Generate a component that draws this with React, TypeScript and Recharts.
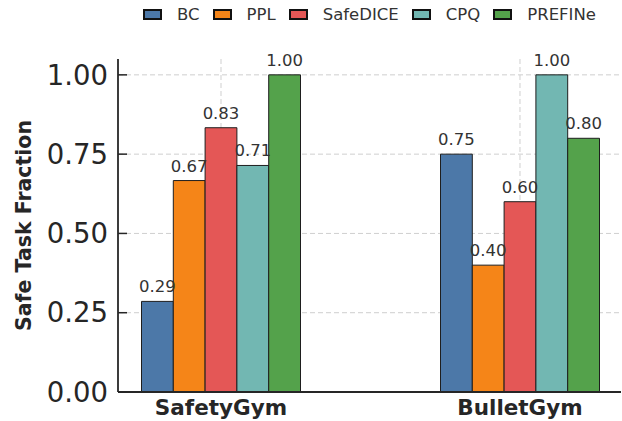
import { BarChart, Bar, XAxis, YAxis, CartesianGrid, LabelList } from 'recharts';

const categories = ['SafetyGym', 'BulletGym'];
const methods = ['BC', 'PPL', 'SafeDICE', 'CPQ', 'PREFINe'];
const bcValues = [0.2857, 0.75];
const pplValues = [0.6667, 0.4];
const safeDiceValues = [0.8333, 0.6];
const cpqValues = [0.7143, 1.0];
const prefineValues = [1.0, 0.8];
const yTicks = [0, 0.25, 0.5, 0.75, 1.0];

const colors = ['#4c78a8', '#f58518', '#e45756', '#72b7b2', '#54a24b'];
const font = '"DejaVu Sans", sans-serif';
const ink = '#262626';

const chartData = categories.map((name, i) => ({
    x: i,
    name,
    BC: bcValues[i],
    PPL: pplValues[i],
    SafeDICE: safeDiceValues[i],
    CPQ: cpqValues[i],
    PREFINe: prefineValues[i],
}));

function LegendBox() {
    return (
        <div style={{ position: 'absolute', top: 5, left: 118, width: 503, display: 'flex', justifyContent: 'center', alignItems: 'center', fontFamily: font, fontSize: 16.5, color: '#333' }}>
            {methods.map((m, i) => (
                <div key={m} style={{ display: 'flex', alignItems: 'center', marginRight: i < methods.length - 1 ? 13 : 0 }}>
                    <span style={{ width: 19, height: 11, boxSizing: 'border-box', border: '2px solid #111', background: colors[i], marginRight: 15, display: 'inline-block' }} />
                    <span>{m}</span>
                </div>
            ))}
        </div>
    );
}

function YLabel(props: any) {
    const vb = props.viewBox || { x: 0, y: 59, width: 118, height: 333 };
    const cx = 24;
    const cy = vb.y + vb.height / 2;
    return (
        <text x={cx} y={cy} transform={`rotate(-90 ${cx} ${cy})`} textAnchor="middle" dominantBaseline="central"
            style={{ fontFamily: font, fontSize: 20.5, fontWeight: 'bold', fill: ink }}>
            Safe Task Fraction
        </text>
    );
}

export default function App() {
    return (
        <div style={{ position: 'absolute', left: 0, top: 0, width: 622, height: 421, background: '#fff' }}>
            <BarChart width={622} height={421} data={chartData} margin={{ top: 59, right: 1, left: 0, bottom: 0 }}
                barGap={0} style={{ fontFamily: font }}>
                <CartesianGrid stroke="#cfcfcf" strokeDasharray="5 3" strokeWidth={1} syncWithTicks />
                <XAxis
                    dataKey="x"
                    type="number"
                    domain={[-0.3445, 1.3378]}
                    allowDataOverflow
                    ticks={[0, 1]}
                    tickFormatter={(v: number) => categories[v]}
                    height={29}
                    tickLine={false}
                    tickSize={0}
                    tickMargin={8}
                    axisLine={{ stroke: ink, strokeWidth: 1.8 }}
                    tick={{ fontSize: 21.5, fontWeight: 'bold', fill: ink, fontFamily: font }}
                />
                <YAxis
                    width={118}
                    domain={[0, 1.05]}
                    ticks={yTicks}
                    allowDataOverflow
                    tickFormatter={(v: number) => v.toFixed(2)}
                    tickSize={-9}
                    tickMargin={19}
                    tickLine={{ stroke: ink, strokeWidth: 1.5 }}
                    axisLine={{ stroke: ink, strokeWidth: 1.8 }}
                    tick={{ fontSize: 27.5, fill: ink, fontFamily: font }}
                    label={<YLabel />}
                />
                {methods.map((m, i) => (
                    <Bar key={m} dataKey={m} fill={colors[i]} stroke="#1e1e1e" strokeWidth={1} barSize={31.8} isAnimationActive={false}>
                        <LabelList dataKey={m} position="top" offset={9} formatter={(v: any) => Number(v).toFixed(2)}
                            style={{ fontSize: 16.5, fill: '#333', fontFamily: font }} />
                    </Bar>
                ))}
            </BarChart>
            <LegendBox />
        </div>
    );
}
